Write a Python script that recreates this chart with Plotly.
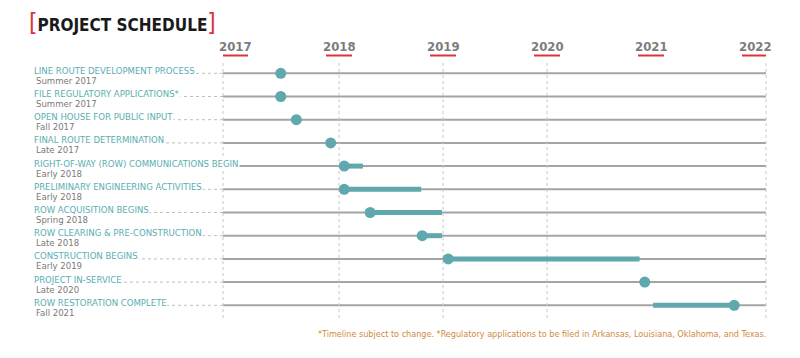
import plotly.graph_objects as go

# ---------------- data ----------------
tasks = [
    "LINE ROUTE DEVELOPMENT PROCESS",
    "FILE REGULATORY APPLICATIONS*",
    "OPEN HOUSE FOR PUBLIC INPUT",
    "FINAL ROUTE DETERMINATION",
    "RIGHT-OF-WAY (ROW) COMMUNICATIONS BEGIN",
    "PRELIMINARY ENGINEERING ACTIVITIES",
    "ROW ACQUISITION BEGINS",
    "ROW CLEARING & PRE-CONSTRUCTION",
    "CONSTRUCTION BEGINS",
    "PROJECT IN-SERVICE",
    "ROW RESTORATION COMPLETE",
]
timing = [
    "Summer 2017", "Summer 2017", "Fall 2017", "Late 2017", "Early 2018",
    "Early 2018", "Spring 2018", "Late 2018", "Early 2019", "Late 2020", "Fall 2021",
]
milestone = [2017.44, 2017.44, 2017.59, 2017.92, 2018.05, 2018.05, 2018.30, 2018.80, 2019.05, 2020.94, 2021.80]
bar_start = [None, None, None, None, 2018.05, 2018.05, 2018.30, 2018.80, 2019.05, None, 2021.02]
bar_end = [None, None, None, None, 2018.23, 2018.79, 2018.99, 2018.99, 2020.89, None, 2021.80]
years = [2017, 2018, 2019, 2020, 2021, 2022]
grid_years = [2018, 2019, 2020]
footnote = "*Timeline subject to change. *Regulatory applications to be filed in Arkansas, Louisiana, Oklahoma, and Texas."
title = "PROJECT SCHEDULE"

# ---------------- style ----------------
TEAL = "#5fa8ad"
TEAL_TXT = "#5aaeb2"
GRAY_TXT = "#7a7a7a"
RED = "#d8363a"
ROWLINE = "#a4a4a4"
GRID = "#c8c8c8"
COND = "DejaVu Sans Condensed, Liberation Sans Narrow, sans-serif"

OFF = 8  # page body margin offset
W, H = 800 - OFF, 358 - OFF
# plot area in reference-page pixels: x 223..766, y 60..318
PL, PR, PT, PB = 223, 766, 60, 318
L, T = PL - OFF, PT - OFF
R, B = W - (PR - OFF), H - (PB - OFF)
PW, PH = PR - PL, PB - PT


def px(p):
    return (p - PL) / PW


def py(p):
    return (PB - p) / PH


n = len(tasks)
rows = list(range(n))
ROW0, ROWSTEP = 73.3, 23.2

fig = go.Figure()

# bars
for i in rows:
    if bar_start[i] is not None:
        fig.add_trace(go.Scatter(
            x=[bar_start[i], bar_end[i]], y=[i, i], mode="lines",
            line=dict(color=TEAL, width=5), hoverinfo="skip", showlegend=False))

# milestone dots
fig.add_trace(go.Scatter(
    x=milestone, y=rows, mode="markers",
    marker=dict(color=TEAL, size=11, line=dict(width=0)),
    text=tasks, showlegend=False))

shapes = []
for i in rows:
    shapes.append(dict(type="line", xref="paper", yref="y", x0=0, x1=1, y0=i, y1=i,
                       line=dict(color=ROWLINE, width=2), layer="below"))
    shapes.append(dict(type="line", xref="paper", yref="y", x0=px(34), x1=0, y0=i, y1=i,
                       line=dict(color="#c0c0c0", width=1, dash="dot"), layer="below"))
for yv in grid_years:
    shapes.append(dict(type="line", xref="x", yref="paper", x0=yv, x1=yv, y0=0, y1=1,
                       line=dict(color=GRID, width=1, dash="dot"), layer="below"))
for xe in (0, 1):
    shapes.append(dict(type="line", xref="paper", yref="paper", x0=xe, x1=xe, y0=0, y1=1,
                       line=dict(color=GRID, width=1, dash="dot"), layer="below"))
for yr in years:
    shapes.append(dict(type="line", xref="x", yref="paper", xsizemode="pixel", xanchor=yr,
                       x0=-13, x1=13, y0=py(55.5), y1=py(55.5),
                       line=dict(color=RED, width=2)))

annotations = []
for yr in years:
    annotations.append(dict(x=yr, xref="x", y=py(46.5), yref="paper", text=f"<b>{yr}</b>",
                            showarrow=False, xanchor="center", yanchor="middle",
                            font=dict(family=COND, size=13, color="#7d7d7d")))
for i in rows:
    annotations.append(dict(x=px(33), xref="paper", y=i, yref="y", yshift=3,
                            text=tasks[i], showarrow=False, xanchor="left", yanchor="middle",
                            bgcolor="white", borderpad=0,
                            font=dict(family=COND, size=9.5, color=TEAL_TXT)))
for i in rows:
    annotations.append(dict(x=px(34), xref="paper", y=i, yref="y", yshift=-7,
                            text=timing[i], showarrow=False, xanchor="left", yanchor="middle",
                            font=dict(family=COND, size=9.5, color=GRAY_TXT)))
bracket = '<span style="color:%s;font-weight:normal;font-size:24px">%s</span>'
annotations.append(dict(x=px(27), xref="paper", y=py(23), yref="paper",
                        text=bracket % (RED, "[") + f"<b>{title}</b>" + bracket % (RED, "]"),
                        showarrow=False, xanchor="left", yanchor="middle",
                        font=dict(family=COND, size=17, color="#1a1a1a")))
annotations.append(dict(x=px(768), xref="paper", y=py(334), yref="paper", text=footnote,
                        showarrow=False, xanchor="right", yanchor="middle",
                        font=dict(family=COND, size=9, color="#d08a3e")))

x0 = 2017 - 12 / 104
x1 = 2022 + 11 / 104
y_top = -(ROW0 - PT) / ROWSTEP
y_bot = (PB - ROW0) / ROWSTEP

fig.update_layout(
    width=W, height=H,
    margin=dict(l=L, r=R, t=T, b=B, pad=0),
    paper_bgcolor="white", plot_bgcolor="white",
    xaxis=dict(range=[x0, x1], showgrid=False, zeroline=False, showticklabels=False,
               ticks="", showline=False, fixedrange=True),
    yaxis=dict(range=[y_bot, y_top], showgrid=False, zeroline=False, showticklabels=False,
               ticks="", showline=False, fixedrange=True),
    shapes=shapes, annotations=annotations,
    showlegend=False,
)

fig.write_html("out.html")
